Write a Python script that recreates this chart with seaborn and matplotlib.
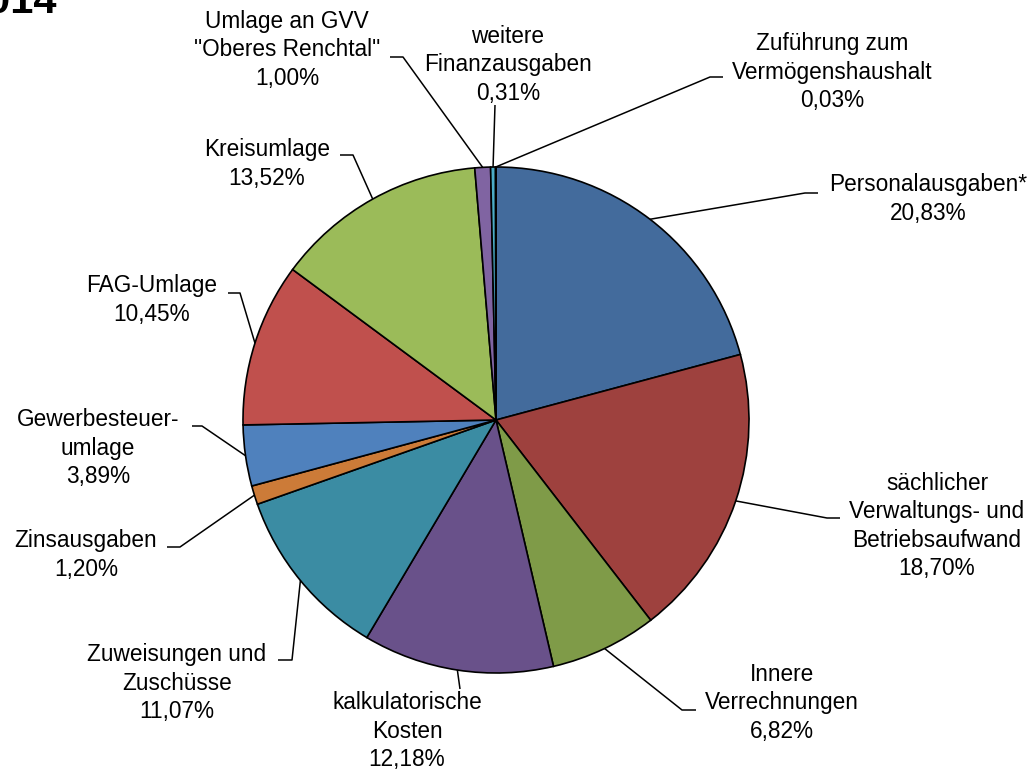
import numpy as np
import matplotlib
matplotlib.use("Agg")
import matplotlib.pyplot as plt
import seaborn as sns

# --- DATEN ---
kategorien = [
    "Personalausgaben*",
    "sächlicher\nVerwaltungs- und\nBetriebsaufwand",
    "Innere\nVerrechnungen",
    "kalkulatorische\nKosten",
    "Zuweisungen und\nZuschüsse",
    "Zinsausgaben",
    "Gewerbesteuer-\numlage",
    "FAG-Umlage",
    "Kreisumlage",
    "Umlage an GVV\n\"Oberes Renchtal\"",
    "weitere\nFinanzausgaben",
    "Zuführung zum\nVermögenshaushalt",
]
anteile = [20.83, 18.70, 6.82, 12.18, 11.07, 1.20, 3.89, 10.45, 13.52, 1.00, 0.31, 0.03]

farben = ["#436B9C", "#9E413E", "#7F9B48", "#69518A", "#3B8CA3", "#CC7B38",
          "#4F81BD", "#C0504D", "#9BBB59", "#8064A2", "#4BACC6", "#F79646"]

# --- LAYOUT (Pixel, y von oben) ---
W, H = 1033, 769
CX, CY, R = 496, 420, 253
text_pos = [(928, 199), (937, 526), (782, 703), (407, 731), (177, 683), (86, 555),
            (98, 448), (152, 300), (267, 164), (287, 50), (508, 65), (832, 72)]
knick = [(805, 193), (827, 518), (682, 710), (460, 689), (292, 660), (180, 547),
         (202, 426), (240, 293), (353, 155), (403, 57), (495, 105), (710, 77)]
stub_ende = [818, 840, 696, 460, 278, 167, 192, 228, 340, 390, 495, 723]


def fmt(v):
    return f"{v:.2f}".replace(".", ",") + "%"


def main():
    sns.set_theme(style="white")
    plt.rcParams["font.family"] = ["Liberation Sans", "DejaVu Sans"]

    fig = plt.figure(figsize=(W / 100, H / 100), dpi=100)
    ax = fig.add_axes([0, 0, 1, 1])

    wedges, _ = ax.pie(anteile, colors=farben, startangle=90, counterclock=False,
                       radius=R, center=(CX, H - CY),
                       wedgeprops=dict(edgecolor="black", linewidth=1.2))

    for w, nome, v, (tx, ty), (kx, ky), sx in zip(wedges, kategorien, anteile,
                                                   text_pos, knick, stub_ende):
        meio = np.deg2rad((w.theta1 + w.theta2) / 2)
        ex = CX + R * np.cos(meio)
        ey = (H - CY) + R * np.sin(meio)
        ax.plot([ex, kx, sx], [ey, H - ky, H - ky], color="black", lw=1.1,
                solid_capstyle="butt", zorder=3)
        ax.text(tx, H - ty, f"{nome}\n{fmt(v)}", ha="center", va="center",
                ma="center", fontsize=16.3, linespacing=1.3, color="black")

    # Titel (oben links abgeschnitten)
    ax.text(57, H - 13, "2014", ha="right", va="baseline", fontsize=30,
            fontweight="bold", color="black")

    ax.set_xlim(0, W)
    ax.set_ylim(0, H)
    ax.set_aspect("auto")
    ax.axis("off")

    fig.savefig("out.png", dpi=100, facecolor="white")


if __name__ == "__main__":
    main()
